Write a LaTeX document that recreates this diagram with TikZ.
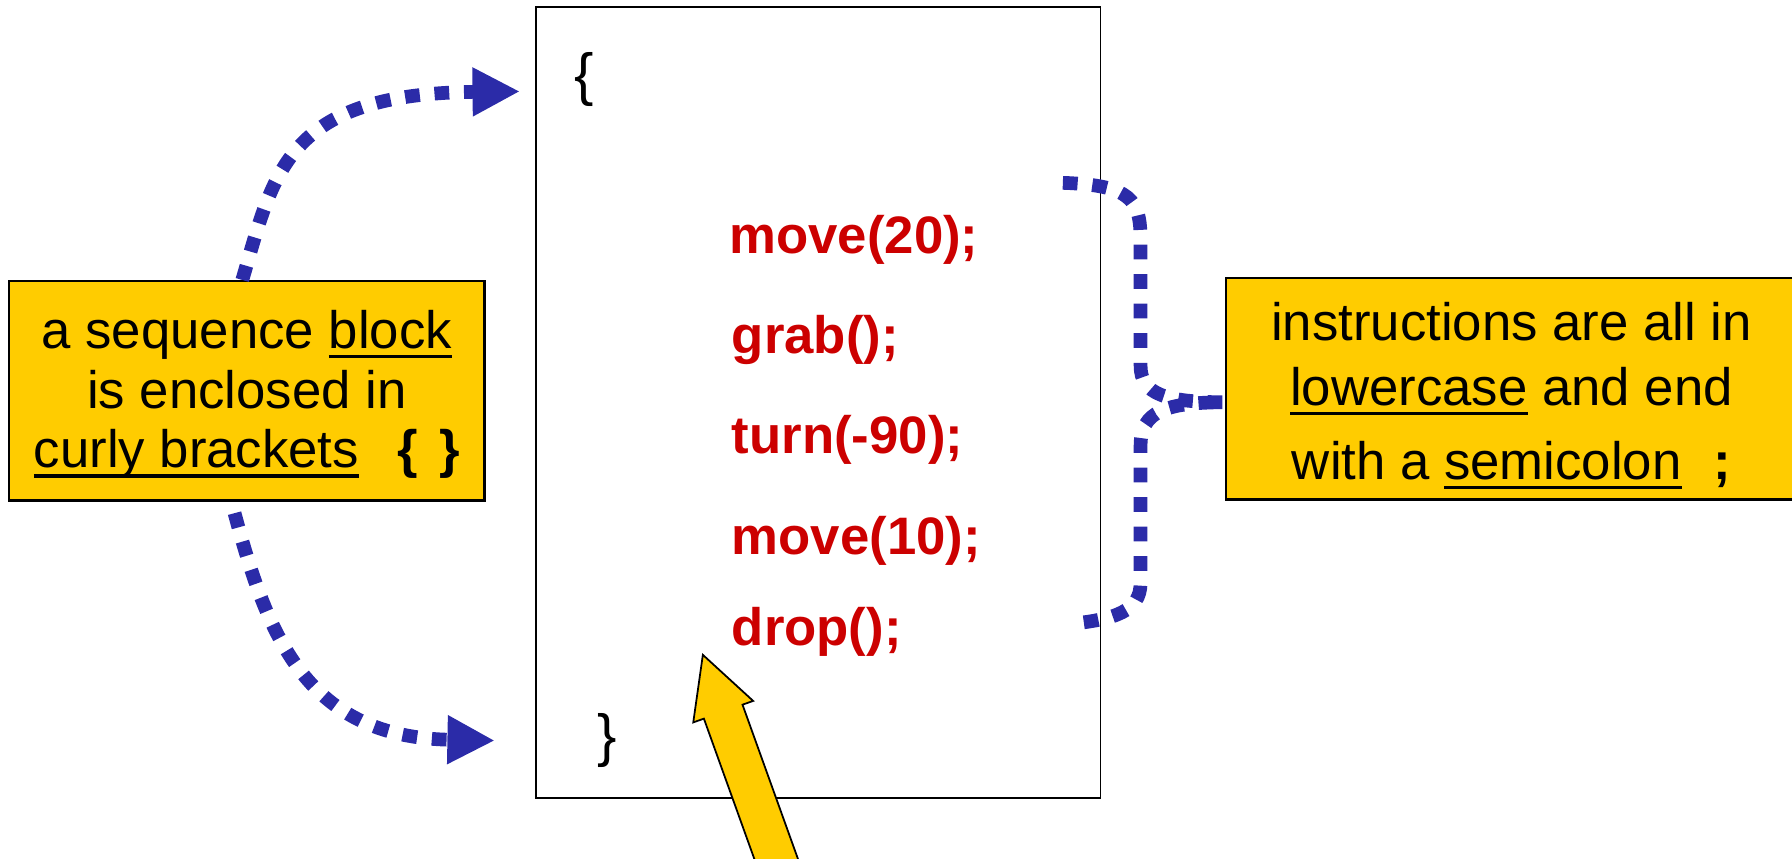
\documentclass[tikz,border=0pt]{standalone}
\usepackage{fontspec}
\setmainfont{Liberation Sans}
\usetikzlibrary{arrows.meta}
\definecolor{boxyellow}{RGB}{255,204,0}
\definecolor{codered}{RGB}{204,0,0}
\definecolor{dotblue}{RGB}{43,43,168}
% thick underline for the large note text
\newcommand\ulx[1]{\leavevmode\setbox0\hbox{#1}\rlap{\copy0}\rule[-5.5pt]{\wd0}{2pt}}

\begin{document}
\begin{tikzpicture}[x=0.65035pt, y=-0.65035pt,
  note/.style={draw=black, line width=1.3pt, fill=boxyellow,
    font=\fontsize{30}{34}\selectfont, align=center, inner sep=0pt},
  code/.style={text=codered, font=\fontsize{30}{34}\selectfont\bfseries,
    anchor=base west, inner sep=0pt},
  curly/.style={font=\fontsize{33}{36}\selectfont, inner sep=0pt},
  dotline/.style={draw=dotblue, line width=7.8pt, dash pattern=on 8.4pt off 8.4pt},
  dotarrow/.style={dotline, -{Triangle[length=27pt,width=26pt]}},
  pointer/.style={fill=boxyellow, draw=black, line width=1pt},
]
\useasboundingbox (0,0) rectangle (1568,751);

% the sequence block
\node[draw=black, line width=1pt, minimum width=321.3pt, minimum height=450pt,
  inner sep=0pt] (block) at (716,352) {};
\node[curly] (open) at (511,70) {\{};
\node[curly] (close) at (531,648) {\}};

\node[code] (c1) at (638,222) {move(20);};
\node[code] (c2) at (640,309) {grab();};
\node[code] (c3) at (640,397) {turn(-90);};
\node[code] (c4) at (640,485) {move(10);};
\node[code] (c5) at (640,565) {drop();};

% explanatory notes
\node[note, minimum width=270.5pt, minimum height=124.9pt] (lbox) at (216,342)
  {\rule{0pt}{26pt}a sequence \ulx{block}\\ is enclosed in\\
   \ulx{curly brackets}\hspace{22pt}\textbf{\{\hspace{12pt}\}}};

\node[note, minimum width=324.5pt, minimum height=126.2pt] (rbox) at (1322.5,340)
  {\rule{0pt}{30pt}instructions are all in\\[3pt] \ulx{lowercase} and end\\[8pt]
   with a \ulx{semicolon}\hspace{18pt}\textbf{;}};

% dotted connectors
\coordinate (topin) at (455,80);
\coordinate (botin) at (433,648);
\draw[dotarrow] ([xshift=-2.6pt]lbox.north) .. controls (240,150) and (250,82) .. (topin);
\draw[dotarrow] ([xshift=-7pt,yshift=-6.5pt]lbox.south) .. controls (235,560) and (270,645) .. (botin);

\coordinate (bt) at (930,160);
\coordinate (bb) at (936,546);
\draw[dotline] (bt) .. controls (990,162) and (998,175) .. (998,210) -- (998,320)
  .. controls (998,345) and (1020,352) .. ([yshift=-7.8pt]rbox.west)
  .. controls (1020,352) and (998,360) .. (998,390) -- (998,510)
  .. controls (998,535) and (975,542) .. (bb);

% yellow pointer from below
\coordinate (ptr) at (615,573);
\begin{scope}
  \clip (0,0) rectangle (1568,751);
  \draw[pointer] (ptr) -- ++(44,40.3) -- ++(-9.3,3.3) -- ++(56.5,157.2)
    -- ++(-33.8,12.2) -- ++(-56.5,-157.2) -- ++(-9.3,3.3) -- cycle;
\end{scope}
\end{tikzpicture}
\end{document}
